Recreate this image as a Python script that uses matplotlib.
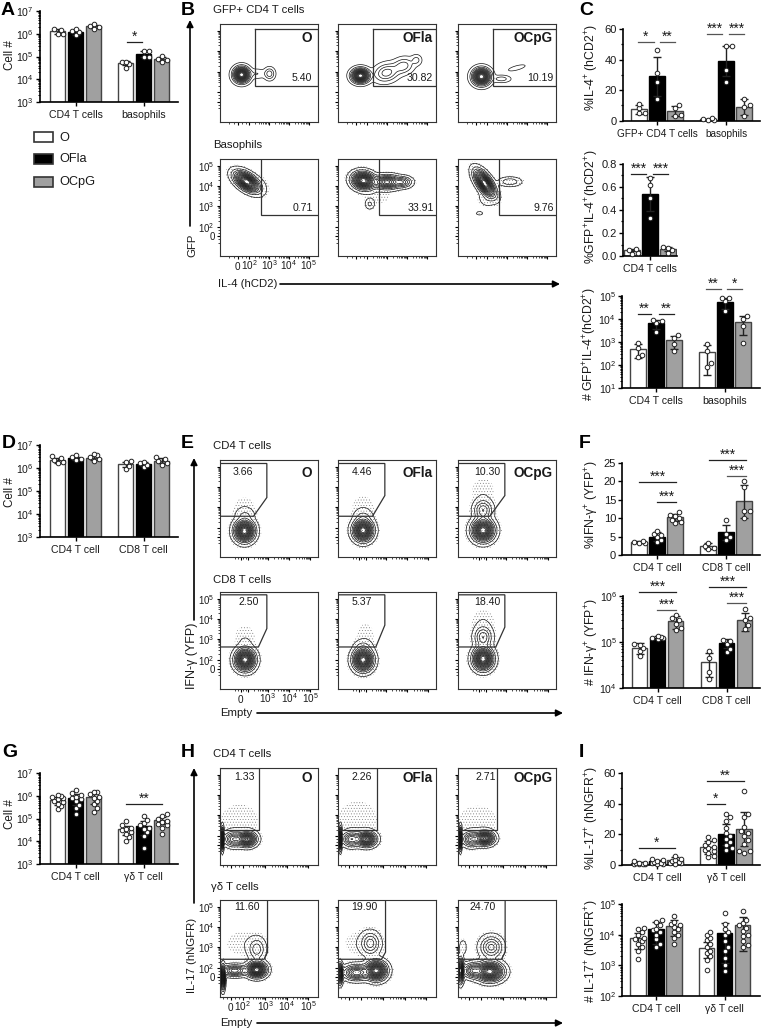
import numpy as np
import matplotlib
matplotlib.use("Agg")
import matplotlib.pyplot as plt
from matplotlib.lines import Line2D
from matplotlib.patches import Rectangle, FancyArrowPatch

plt.rcParams['font.family'] = ['Liberation Sans', 'DejaVu Sans']
plt.rcParams['mathtext.default'] = 'regular'
plt.rcParams['hatch.color'] = '#777777'
plt.rcParams['hatch.linewidth'] = 0.3

W, H = 761, 1029
groups = ["O", "OFla", "OCpG"]
colors = ["white", "black", "#a0a0a0"]
edges = ["#444444", "black", "#444444"]

# ---- bar values, order O / OFla / OCpG for group 1 then group 2 ----
a_means = [1.3e6, 1.2e6, 2.1e6, 5.2e4, 1.35e5, 8e4]
a_err = [3e5, 3e5, 3.5e5, 1e4, 3.5e4, 1.8e4]
a_pts = [[1.7e6, 1.5e6, 1.0e6, 1.0e6], [1.6e6, 1.3e6, 1.2e6, 0.9e6], [2.6e6, 2.3e6, 1.9e6, 1.7e6],
         [6e4, 5.5e4, 4.5e4, 3e4], [1.8e5, 1.7e5, 1.0e5, 1e5], [1.1e5, 8e4, 7e4, 6e4]]

c1_means = [7.5, 29, 6.3, 0.8, 39, 9]
c1_err = [3, 13, 3, 0.4, 10, 5]
c1_pts = [[11, 8, 5, 5], [46, 31, 25, 14], [10, 8, 3.5, 3], [1.5, 1, 0.7, 0.5],
          [49, 49, 33, 25], [14, 10, 9, 3]]

c2_means = [0.05, 0.54, 0.06]
c2_err = [0.01, 0.15, 0.02]
c2_pts = [[0.06, 0.05, 0.03, 0.02], [0.68, 0.62, 0.5, 0.33], [0.08, 0.07, 0.05, 0.03]]

c3_means = [500, 6500, 1200, 370, 5.5e4, 7500]
c3_err = [300, 2800, 700, 350, 2.8e4, 5500]
c3_pts = [[900, 550, 280, 220], [9000, 8000, 7000, 2700], [2000, 1500, 800, 400],
          [850, 400, 120, 85], [8e4, 8e4, 6e4, 2.2e4], [1.3e4, 1e4, 5000, 900]]

d_means = [2.2e6, 2.7e6, 2.8e6, 1.5e6, 1.5e6, 2.1e6]
d_err = [5e5, 4e5, 6e5, 4e5, 3e5, 5e5]
d_pts = [[3.2e6, 2.6e6, 2.2e6, 1.8e6, 1.7e6], [3.5e6, 2.9e6, 2.5e6, 2.2e6],
         [4e6, 3.5e6, 3e6, 2.4e6, 2e6], [2e6, 1.8e6, 1.2e6, 0.9e6],
         [1.9e6, 1.7e6, 1.4e6, 1.1e6], [3e6, 2.5e6, 2.1e6, 1.7e6, 1.4e6]]

f1_means = [3.5, 5, 10.2, 2.4, 6.2, 14.6]
f1_err = [0.3, 1.2, 1, 0.8, 2, 4.5]
f1_pts = [[3.8, 3.5, 3.3, 3.2], [6.5, 5.8, 5.5, 4.8, 4.2, 3.5], [11.8, 11, 10.7, 10, 9.5, 9, 8.8],
          [3.2, 2.5, 2, 1.5], [9.5, 5.8, 5, 4], [20, 18.5, 12, 12, 10]]

f2_means = [7.5e4, 1.25e5, 2.8e5, 3.7e4, 9.5e4, 3e5]
f2_err = [2e4, 1e4, 9e4, 2e4, 2e4, 1.3e5]
f2_pts = [[9e4, 8.5e4, 7.5e4, 6.5e4, 5e4], [1.35e5, 1.3e5, 1.25e5, 1.2e5, 1.15e5],
          [3.8e5, 3.3e5, 3e5, 2.5e5, 2e5, 1.8e5], [6.5e4, 4.5e4, 2.2e4, 1.6e4],
          [1.1e5, 1.05e5, 9e4, 7e4, 6e4], [5.3e5, 3.3e5, 3e5, 2.3e5, 1.9e5]]

g_means = [6.5e5, 8e5, 8.5e5, 3.3e4, 4.8e4, 8.5e4]
g_err = [2.5e5, 4e5, 4e5, 1.5e4, 3e4, 3e4]
g_pts = [[1.1e6, 1e6, 9e5, 8e5, 7.5e5, 6e5, 5.5e5, 4.5e5, 3.5e5, 2.5e5],
         [1.8e6, 1.3e6, 1.1e6, 9e5, 8e5, 7e5, 6e5, 4e5, 3e5, 1.5e5],
         [1.5e6, 1.4e6, 1.2e6, 9e5, 8e5, 6e5, 4.5e5, 3e5, 2e5],
         [7.5e4, 5e4, 4e4, 3.5e4, 3e4, 2.5e4, 2e4, 1.5e4, 1e4],
         [1.3e5, 8.5e4, 6.5e4, 5e4, 4e4, 3.5e4, 2.5e4, 1.7e4, 5e3],
         [1.5e5, 1.3e5, 1e5, 8e4, 7e4, 6e4, 5e4, 4e4, 2e4]]

i1_means = [1.3, 2.3, 3, 11.5, 20, 23.5]
i1_err = [0.5, 1, 2, 4, 7, 11]
i1_pts = [[2.5, 1.5, 1.2, 1, 0.8, 0.6, 0.5, 0.5], [4, 3, 2.5, 2, 1.5, 1, 0.7, 0.5],
          [6, 4, 3, 2.5, 2, 1.5, 1, 0.5], [18, 16, 15, 13, 12, 11, 10, 9, 8, 6, 5],
          [33, 31, 29, 24, 21, 19, 17, 15, 13, 11, 10],
          [48, 33, 31, 25, 22, 21, 19, 16, 14, 9, 9, 8]]

i2_means = [7.5e3, 1.5e4, 1.9e4, 3.8e3, 1.15e4, 2e4]
i2_err = [4e3, 1e4, 1e4, 2e3, 1.3e4, 1.7e4]
i2_pts = [[1.7e4, 1.5e4, 1.2e4, 1e4, 8e3, 7e3, 6e3, 5e3, 4e3, 3e3, 1.6e3],
          [3e4, 2.6e4, 2e4, 1.5e4, 1.4e4, 1.2e4, 1e4, 7e3, 5e3, 4e3],
          [4e4, 2.5e4, 2.2e4, 2e4, 1.8e4, 1.5e4, 1.2e4, 1e4, 8e3, 5e3],
          [1.2e4, 1e4, 8e3, 6.5e3, 5e3, 4e3, 3e3, 2.5e3, 2e3, 1.5e3, 7e2],
          [5e4, 2.3e4, 1.5e4, 1.2e4, 1e4, 6e3, 4e3, 3e3, 1.8e3, 1e3, 6.5e2],
          [6e4, 3e4, 2.4e4, 2e4, 1.7e4, 1.3e4, 1e4, 9e3, 6e3, 4.5e3, 4e3]]

# ---- flow panels: populations (x, y, spread a, spread b, angle, weight) in panel fractions ----
b_blobs = [
    [[(.22, .48, .043, .042, 0, 1), (.38, .49, .05, .028, 0, .05), (.505, .49, .03, .034, 0, .14)],
     [(.229, .47, .047, .038, 0, 1), (.495, .50, .07, .05, 15, .2), (.665, .57, .06, .045, 15, .14), (.80, .63, .03, .03, 0, .07)],
     [(.239, .46, .048, .045, 0, 1), (.444, .437, .05, .02, 0, .08), (.6, .55, .06, .015, 15, .035)]],
    [[(.273, .764, .075, .04, -35, 1), (.42, .74, .08, .07, 0, .007)],
     [(.26, .775, .06, .045, -10, 1), (.50, .76, .07, .036, 0, .6), (.66, .76, .05, .03, 0, .25), (.324, .534, .024, .028, 0, .06), (.40, .60, .12, .06, 0, .008)],
     [(.273, .747, .08, .036, -55, 1), (.53, .764, .06, .025, 0, .1), (.22, .44, .025, .014, 0, .025), (.30, .60, .05, .05, 0, .04)]],
]
e_blobs = [
    [[(.25, .267, .052, .056, 0, 1), (.255, .43, .05, .035, 0, .05), (.25, .5, .08, .08, 0, .01)],
     [(.256, .274, .052, .056, 0, 1), (.256, .42, .05, .035, 0, .05), (.256, .5, .08, .09, 0, .01)],
     [(.256, .274, .058, .058, 0, 1), (.256, .48, .05, .055, 0, .22), (.256, .68, .08, .09, 0, .01)]],
    [[(.256, .30, .052, .056, 0, 1), (.256, .47, .05, .04, 0, .01), (.256, .55, .08, .08, 0, .008)],
     [(.256, .30, .052, .058, 0, 1), (.256, .44, .05, .035, 0, .05), (.28, .56, .07, .09, 0, .008)],
     [(.256, .31, .052, .058, 0, 1), (.256, .53, .048, .06, 0, .22), (.256, .70, .08, .08, 0, .01)]],
]
h_blobs = [
    [[(.024, .27, .008, .055, 0, 1), (.273, .265, .05, .038, 0, .8), (.137, .265, .05, .04, 0, .35), (.2, .46, .14, .12, 0, .01)],
     [(.024, .27, .008, .055, 0, 1), (.29, .265, .05, .038, 0, .8), (.137, .265, .05, .04, 0, .35), (.2, .47, .14, .13, 0, .011)],
     [(.024, .27, .008, .055, 0, 1), (.273, .275, .05, .036, 0, .8), (.137, .265, .05, .04, 0, .35), (.2, .46, .14, .11, 0, .01)]],
    [[(.03, .20, .012, .06, 0, .9), (.375, .28, .05, .04, 0, 1), (.15, .27, .07, .03, 0, .4), (.375, .49, .045, .06, 0, .14), (.25, .55, .13, .09, 0, .01)],
     [(.02, .24, .015, .05, 0, 1), (.39, .27, .055, .05, 0, 1), (.19, .25, .07, .04, 0, .5), (.33, .55, .05, .06, 0, .2), (.25, .55, .13, .09, 0, .01)],
     [(.024, .27, .018, .06, 0, 1), (.324, .26, .07, .05, 0, 1), (.154, .27, .05, .04, 0, .4), (.34, .51, .06, .06, 0, .25), (.05, .51, .02, .04, 0, .05)]],
]

# gates in panel fractions
b_gates = [[(.36, .95), (1, .95), (1, .365), (.36, .365), (.36, .95)], [(.415, 1), (.415, .418), (1, .418)]]
e_gates = [[[(0, .959), (.478, .959), (.478, .61), (.342, .418), (0, .418)],
            [(0, .959), (.478, .959), (.478, .63), (.352, .418), (0, .418)],
            [(0, .959), (.478, .959), (.478, .63), (.324, .418), (0, .418)]],
           [[(0, .966), (.478, .966), (.478, .62), (.392, .431), (0, .431)],
            [(0, .966), (.478, .966), (.478, .655), (.386, .431), (0, .431)],
            [(0, .966), (.478, .966), (.478, .635), (.386, .431), (0, .431)]]]
h_gates = [[[(0, .99), (.40, .99), (.40, .358), (0, .358)]] * 3,
           [[(.485, 1), (.485, .46), (.45, .387), (0, .387)],
            [(.485, 1), (.485, .46), (.444, .387), (0, .387)],
            [(.481, 1), (.481, .46), (.444, .387), (0, .387)]]]

y_flow_ticks = [.205, .30, .51, .72, .925]
flow_y_labels = ["0", "$10^{2}$", "$10^{3}$", "$10^{4}$", "$10^{5}$"]
b_x_ticks = [.18, .30, .505, .70, .905]
e_x_ticks = [.21, .29, .485, .706, .92]
h_x_ticks = [.11, .23, .46, .68, .90]

fig = plt.figure(figsize=(W / 100, H / 100), dpi=100)


def ax_px(x0, ytop, x1, ybot):
    return fig.add_axes([x0 / W, 1 - ybot / H, (x1 - x0) / W, (ybot - ytop) / H])


def txt(x, y, s, size=7.6, **kw):
    kw.setdefault('va', 'center')
    return fig.text(x / W, 1 - y / H, s, fontsize=size, color=kw.pop('color', '#1a1a1a'), **kw)


def swarm(ax, x, vals):
    # spread the dots sideways so they do not sit on top of each other
    taken = []
    out = []
    for v in sorted(vals):
        py = ax.transData.transform((0, v))[1]
        best, score = 0, 1e9
        for dx in [0, 3.5, -3.5, 5.5, -5.5]:
            s = sum(max(0, 4.2 - np.hypot(dx - a, py - b)) for a, b in taken) + abs(dx) * 0.02
            if s < score:
                best, score = dx, s
        taken.append((best, py))
        out.append(x + best / 18.0)
    return out


def bar_panel(x0, x1, ytop, ybot, first, gap, ylim, means, errs, pts, glabels, log=False,
              yticks=None, ylabels=None, minor=None):
    ax = ax_px(x0, ytop, x1, ybot)
    ax.set_xlim((x0 - first) / 18.0, (x1 - first) / 18.0)
    if log:
        ax.set_yscale('log')
    ax.set_ylim(*ylim)
    n = len(means) // 3
    xs = [g * gap / 18.0 + i for g in range(n) for i in range(3)]
    for k, x in enumerate(xs):
        c = k % 3
        ax.bar(x, means[k] - ylim[0], bottom=ylim[0], width=0.84, color=colors[c], edgecolor=edges[c],
               linewidth=1.0, zorder=2)
        lo = min(errs[k], means[k] - ylim[0] if not log else means[k] * 0.9)
        ax.errorbar(x, means[k], yerr=[[lo], [errs[k]]], color='#222222', elinewidth=1.0, capsize=2.6,
                    capthick=1.0, zorder=3)
        ax.plot(swarm(ax, x, pts[k]), sorted(pts[k]), 'o', ms=3.3, mfc='white', mec='#222222', mew=0.7,
                zorder=4, clip_on=False, ls='none')
    ax.set_xticks([g * gap / 18.0 + 1 for g in range(n)], glabels, fontsize=7.6, color='#1a1a1a')
    ax.tick_params(axis='x', length=3, width=1, pad=3)
    ax.set_yticks(yticks, ylabels, fontsize=7.6 if log else 8, color='#1a1a1a')
    ax.tick_params(axis='y', which='major', length=3.2, width=1, pad=1)
    if log:
        ax.yaxis.set_minor_locator(matplotlib.ticker.LogLocator(subs=range(2, 10), numticks=12))
        ax.yaxis.set_minor_formatter(matplotlib.ticker.NullFormatter())
        ax.tick_params(axis='y', which='minor', length=1.8, width=0.7)
    elif minor is not None:
        ax.set_yticks(minor, minor=True)
        ax.tick_params(axis='y', which='minor', length=1.8, width=0.9)
    for s in ['top', 'right']:
        ax.spines[s].set_visible(False)
    for s in ['left', 'bottom']:
        ax.spines[s].set_linewidth(1.2)
    return ax


def sig(x0, x1, y, stars, grey=False):
    fig.add_artist(Line2D([x0 / W, x1 / W], [1 - y / H] * 2, color='#555555' if grey else '#222222', lw=0.9))
    txt((x0 + x1) / 2, y - 1, stars, size=10, ha='center', va='baseline')


def decades(ticks):
    out = []
    for a, b in zip(ticks[1:-1], ticks[2:]):
        out += [a + (b - a) * np.log10(m) for m in range(2, 10)]
    out += [ticks[0] + (ticks[1] - ticks[0]) * f for f in (-.7, -.35, .35, .7)]
    return out


gx, gy = np.meshgrid(np.linspace(0, 1, 260), np.linspace(0, 1, 260))
levels = [.012, .05, .1, .16, .22, .28, .35, .42, .49, .56, .63, .7, .77, .84, .91]


def flow_panel(x0, ytop, blobs, gate, x_ticks, tick_labels=False, x_labels=None, halo=None):
    ax = ax_px(x0, ytop, x0 + 98, ytop + 97.5)
    z = np.zeros_like(gx)
    for cx, cy, sa, sb, ang, w in blobs:
        t = np.radians(ang)
        u = (gx - cx) * np.cos(t) + (gy - cy) * np.sin(t)
        v = -(gx - cx) * np.sin(t) + (gy - cy) * np.cos(t)
        z += w * np.exp(-0.5 * ((u / sa) ** 2 + (v / sb) ** 2))
    z /= z.max()
    if halo:
        ax.contourf(gx, gy, z, levels=[halo, 2], colors='none', hatches=['......'])
    ax.contour(gx, gy, z, levels=levels, colors='#141414', linewidths=0.5)
    ax.plot(*zip(*gate), color='#333333', lw=0.9, solid_joinstyle='miter')
    ax.set_xlim(0, 1)
    ax.set_ylim(0, 1)
    ax.set_xticks(x_ticks, x_labels if x_labels else [''] * len(x_ticks), fontsize=7.2, color='#1a1a1a', va='baseline')
    ax.set_yticks(y_flow_ticks, flow_y_labels if tick_labels else [''] * 5, fontsize=6.9, color='#1a1a1a')
    ax.set_xticks([t for t in decades(x_ticks) if 0 < t < 1], minor=True)
    ax.set_yticks([t for t in decades(y_flow_ticks) if 0 < t < 1], minor=True)
    ax.tick_params(which='major', length=2.4, width=0.8)
    ax.tick_params(which='minor', length=1.4, width=0.5)
    ax.tick_params(axis='y', pad=1.5)
    ax.tick_params(axis='x', pad=7.6)
    for s in ax.spines.values():
        s.set_linewidth(0.8)
        s.set_color('#333333')
    return ax


def arrow(x0, y0, x1, y1):
    fig.add_artist(FancyArrowPatch((x0 / W, 1 - y0 / H), (x1 / W, 1 - y1 / H), transform=fig.transFigure,
                                   arrowstyle='-|>', mutation_scale=10, lw=1.2, color='black',
                                   shrinkA=0, shrinkB=0))


# ---- A, D, G ----
log7 = [1e3, 1e4, 1e5, 1e6, 1e7]
lab7 = ["$10^{3}$", "$10^{4}$", "$10^{5}$", "$10^{6}$", "$10^{7}$"]
bar_panel(39.5, 178, 11, 102, 57.5, 68, (1e3, 1e7), a_means, a_err, a_pts, ["CD4 T cells", "basophils"], True, log7, lab7)
bar_panel(39.5, 178, 445, 537, 57.5, 68, (1e3, 1e7), d_means, d_err, d_pts, ["CD4 T cell", "CD8 T cell"], True, log7, lab7)
bar_panel(39.5, 178, 773, 864, 57.5, 68, (1e3, 1e7), g_means, g_err, g_pts, ["CD4 T cell", "γδ T cell"], True, log7, lab7)
sig(127, 142, 42, "*")
sig(126, 162, 804, "**")
for y in (55, 492, 814):
    txt(10, y, "Cell #", size=8.4, rotation=90, ha='center')

for k, g in enumerate(groups):
    y = [132, 154, 177][k]
    fig.add_artist(Rectangle((34 / W, 1 - (y + 10) / H), 19 / W, 10 / H, transform=fig.transFigure,
                             facecolor=colors[k], edgecolor='#333333', lw=1.2))
    txt(59, y + 5.5, g, size=9.2)

# ---- C ----
ax_c1 = bar_panel(622.5, 760, 29, 120.7, 639, 69, (0, 60), c1_means, c1_err, c1_pts, ["GFP+ CD4 T cells", "basophils"],
                  False, [0, 20, 40, 60], ["0", "20", "40", "60"], [10, 30, 50])
ax_c1.tick_params(axis='x', labelsize=7.2)
bar_panel(623, 677, 164, 256, 632, 69, (0, 0.8), c2_means, c2_err, c2_pts, ["CD4 T cells"],
          False, [0, .2, .4, .6, .8], ["0.0", "0.2", "0.4", "0.6", "0.8"], [.1, .3, .5, .7])
bar_panel(622, 760, 296, 388, 638, 69, (1e1, 1e5), c3_means, c3_err, c3_pts, ["CD4 T cells", "basophils"], True,
          [1e1, 1e2, 1e3, 1e4, 1e5], ["$10^{1}$", "$10^{2}$", "$10^{3}$", "$10^{4}$", "$10^{5}$"])
sig(638, 654, 42, "*", True)
sig(660, 675, 42, "**", True)
sig(707, 722, 34, "***", True)
sig(729, 744, 34, "***", True)
sig(631, 646, 174, "***")
sig(653, 668, 174, "***")
sig(638, 651, 314, "**")
sig(659, 674, 314, "**")
sig(706, 721, 289, "**", True)
sig(727, 742, 289, "*", True)
txt(592, 67, "%IL-4$^{+}$ (hCD2$^{+}$)", size=8.8, rotation=90, ha='center')
txt(592, 207, "%GFP$^{+}$IL-4$^{+}$(hCD2$^{+}$)", size=8.8, rotation=90, ha='center')
txt(590, 344, "# GFP$^{+}$IL-4$^{+}$(hCD2$^{+}$)", size=8.8, rotation=90, ha='center')

# ---- F ----
bar_panel(622, 760, 463, 555, 639, 69, (0, 25), f1_means, f1_err, f1_pts, ["CD4 T cell", "CD8 T cell"],
          False, [0, 5, 10, 15, 20, 25], ["0", "5", "10", "15", "20", "25"])
bar_panel(623, 760, 596, 688, 639.5, 69, (1e4, 1e6), f2_means, f2_err, f2_pts, ["CD4 T cell", "CD8 T cell"], True,
          [1e4, 1e5, 1e6], ["$10^{4}$", "$10^{5}$", "$10^{6}$"])
sig(639, 676, 482, "***")
sig(657, 676, 502, "***")
sig(709, 746, 460, "***")
sig(727, 746, 476, "***", True)
sig(639, 676, 592, "***")
sig(657, 676, 610, "***", True)
sig(709, 746, 587, "***")
sig(727, 746, 603, "***", True)
txt(592, 505, "%IFN-γ$^{+}$ (YFP$^{+}$)", size=8.8, rotation=90, ha='center')
txt(592, 642, "# IFN-γ$^{+}$ (YFP$^{+}$)", size=8.8, rotation=90, ha='center')

# ---- I ----
bar_panel(622, 760, 773, 865, 639, 69, (0, 60), i1_means, i1_err, i1_pts, ["CD4 T cell", "γδ T cell"],
          False, [0, 20, 40, 60], ["0", "20", "40", "60"], [10, 30, 50])
bar_panel(622, 760, 904, 996, 638, 68.5, (1e2, 1e5), i2_means, i2_err, i2_pts, ["CD4 T cell", "γδ T cell"], True,
          [1e2, 1e3, 1e4, 1e5], ["$10^{2}$", "$10^{3}$", "$10^{4}$", "$10^{5}$"])
sig(639, 675, 848, "*")
sig(707, 725, 804, "*")
sig(707, 744, 781, "**")
txt(592, 818, "%IL-17$^{+}$ (hNGFR$^{+}$)", size=8.8, rotation=90, ha='center')
txt(592, 951, "# IL-17$^{+}$ (hNGFR$^{+}$)", size=8.8, rotation=90, ha='center')

# ---- flow plots ----
cols = [220, 338, 458]
lab_right = [312, 433, 553]
b_tops = [24, 158.7]
e_tops = [459.5, 591.5]
h_tops = [767.5, 899.5]
b_nums = [["5.40", "30.82", "10.19"], ["0.71", "33.91", "9.76"]]
e_nums = [["3.66", "4.46", "10.30"], ["2.50", "5.37", "18.40"]]
h_nums = [["1.33", "2.26", "2.71"], ["11.60", "19.90", "24.70"]]
e_num_x = [[243, 362, 487], [249, 362, 487]]
h_num_x = [[244, 362, 486], [247, 364, 483]]

for r in range(2):
    for c in range(3):
        first = r == 1 and c == 0
        blab = ["0", "$10^{2}$", "$10^{3}$", "$10^{4}$", "$10^{5}$"] if first else None
        elab = ["0", "", "$10^{3}$", "$10^{4}$", "$10^{5}$"] if first else None
        flow_panel(cols[c], b_tops[r], b_blobs[r][c], b_gates[r], b_x_ticks, first, blab, halo=.005 if r else None)
        flow_panel(cols[c], e_tops[r], e_blobs[r][c], e_gates[r][c], e_x_ticks, first, elab, halo=.004)
        flow_panel(cols[c], h_tops[r], h_blobs[r][c], h_gates[r][c], h_x_ticks, first, blab, halo=.004)
        txt(lab_right[c] + (1 if r else 0), [78, 208][r], b_nums[r][c], ha='right')
        txt(e_num_x[r][c], [472, 602][r], e_nums[r][c], ha='center')
        txt(h_num_x[r][c], [777, 907][r], h_nums[r][c], ha='center')

for c, g in enumerate(groups):
    txt(lab_right[c], 38, g, size=9.8, ha='right', fontweight='bold')
    txt(lab_right[c], 473, g, size=9.8, ha='right', fontweight='bold')
    txt(lab_right[c], 778, g, size=9.8, ha='right', fontweight='bold')

txt(213, 10, "GFP+ CD4 T cells", size=8.2)
txt(213, 145, "Basophils", size=8.2)
txt(213, 446, "CD4 T cells", size=8.2)
txt(213, 580, "CD8 T cells", size=8.2)
txt(213, 754, "CD4 T cells", size=8.2)
txt(211, 887, "γδ T cells", size=8.2)

arrow(190, 226, 190, 20)
arrow(194, 620, 194, 458)
arrow(194, 903, 194, 768)
arrow(280, 284, 560, 284)
arrow(257, 713, 563, 713)
arrow(257, 1023, 563, 1023)
txt(192, 245, "GFP", size=8.2, rotation=90, ha='center')
txt(192, 656, "IFN-γ (YFP)", size=9, rotation=90, ha='center')
txt(192, 955, "IL-17 (hNGFR)", size=8.2, rotation=90, ha='center')
txt(218, 284, "IL-4 (hCD2)", size=8.2)
txt(220, 713, "Empty", size=8.2)
txt(220, 1023, "Empty", size=8.2)

for s, x, y in [("A", 1, 15), ("B", 181, 15), ("C", 579, 15), ("D", 2, 448), ("E", 181, 448), ("F", 579, 448),
                ("G", 2, 757), ("H", 181, 757), ("I", 579, 757)]:
    txt(x, y, s, size=14, fontweight='bold', va='baseline', color='black')

fig.savefig("out.png", dpi=100)
